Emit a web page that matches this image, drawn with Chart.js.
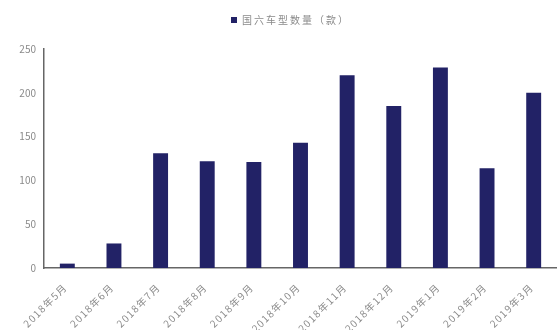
<!DOCTYPE html>
<html>
<head>
<meta charset="utf-8">
<script src="https://cdn.jsdelivr.net/npm/chart.js@4/dist/chart.umd.min.js"></script>
<style>
  html, body { margin: 0; padding: 0; background: #ffffff; }
  #wrap { width: 557px; height: 330px; position: relative; }
</style>
</head>
<body>
<div id="wrap"><canvas id="c"></canvas></div>
<script>
// Monthly count of China-VI compliant vehicle models
const months = ['2018年5月', '2018年6月', '2018年7月', '2018年8月', '2018年9月', '2018年10月',
                '2018年11月', '2018年12月', '2019年1月', '2019年2月', '2019年3月'];
const modelCounts = [5, 28, 131, 122, 121, 143, 220, 185, 229, 114, 200];
const seriesName = '国六车型数量（款）';
const yTicks = [0, 50, 100, 150, 200, 250];

const navy = '#222266';
const fontFamily = '"Noto Sans CJK SC", "Noto Sans", sans-serif';

// Draw a function's text output with extra tracking between characters
function withSpacing(fn, spacing, dx) {
  return function (...args) {
    const ctx = this.ctx;
    ctx.save();
    ctx.letterSpacing = spacing;
    if (dx) ctx.translate(dx, 0);
    fn.apply(this, args);
    ctx.restore();
  };
}

// Legend: extra room below it, spaced-out lettering, nudged right
const legendStyle = {
  id: 'legendStyle',
  beforeInit(chart) {
    const legend = chart.legend;
    const fit = legend.fit;
    legend.fit = function () {
      fit.call(this);
      this.height += 14;
    };
    legend.draw = withSpacing(legend.draw, '2px', 3);
  }
};

new Chart(document.getElementById('c'), {
  type: 'bar',
  data: {
    labels: months,
    datasets: [{
      label: seriesName,
      data: modelCounts,
      backgroundColor: navy,
      borderWidth: 0,
      barPercentage: 0.32,
      categoryPercentage: 1.0
    }]
  },
  plugins: [legendStyle],
  options: {
    responsive: true,
    maintainAspectRatio: false,
    animation: false,
    layout: { padding: { top: 5, right: 0, bottom: 0, left: 0 } },
    plugins: {
      legend: {
        position: 'top',
        labels: {
          boxWidth: 6,
          boxHeight: 6,
          padding: 10,
          color: '#8a8a8a',
          font: { family: fontFamily, size: 10 }
        }
      },
      tooltip: { enabled: false }
    },
    scales: {
      x: {
        grid: { display: false, drawTicks: false },
        border: { display: true, color: '#666666', width: 1.5 },
        ticks: {
          minRotation: 45,
          maxRotation: 45,
          padding: 13,
          color: '#8a8a8a',
          font: { family: fontFamily, size: 10 }
        },
        afterFit(scale) { scale.height = 62; },
        afterUpdate(scale) {
          if (!scale._spaced) {
            scale.drawLabels = withSpacing(scale.drawLabels, '1.3px', -2);
            scale._spaced = true;
          }
        }
      },
      y: {
        min: 0,
        max: 250,
        afterBuildTicks(scale) { scale.ticks = yTicks.map(v => ({ value: v })); },
        grid: { display: false, drawTicks: false },
        border: { display: true, color: '#666666', width: 1.5 },
        ticks: {
          padding: 8,
          color: '#8a8a8a',
          font: { family: fontFamily, size: 10 }
        },
        afterFit(scale) { scale.width = 44; }
      }
    }
  }
});
</script>
</body>
</html>
